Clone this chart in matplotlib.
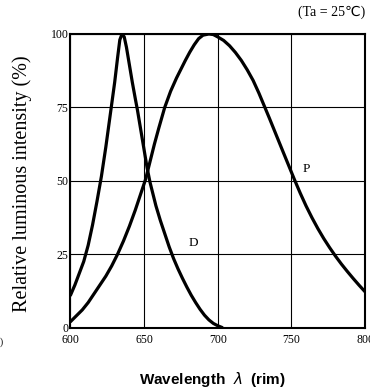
import numpy as np
import matplotlib
matplotlib.use("Agg")
import matplotlib.pyplot as plt

# curva D (pico estrecho, ~635 nm)
d_nm = [600, 603, 606, 609, 612, 615, 618, 621, 624, 627, 630, 632, 633.5, 635,
        636.5, 638, 640, 642, 644, 645.5, 648, 650, 652, 654, 656, 658, 661, 664,
        667, 670, 673, 676, 679, 682, 685, 688, 691, 694, 697, 700, 703]
d_val = [11, 14.5, 18.5, 22.5, 28, 35, 43, 51.5, 61.5, 72.5, 83.5, 92, 98, 100,
         99, 95.5, 89.5, 83.5, 78, 74, 66.5, 60.5, 54.5, 49.5, 45.5, 41.5, 36.5, 32,
         27.5, 23.5, 20, 16.8, 13.8, 11, 8.5, 6.2, 4.2, 2.6, 1.4, 0.6, 0]

# curva P (pico ancho, ~694 nm)
p_nm = [600, 604, 608, 612, 616, 620, 624, 628, 632, 636, 640, 644, 648, 651,
        654, 657, 660, 664, 668, 672, 675, 678, 681, 684, 687, 690, 694, 697,
        700, 704, 708, 712, 716, 720, 724, 728, 731.5, 735, 738, 741, 744, 748,
        752, 756, 760, 764, 768, 772, 776, 780, 784, 788, 792, 796, 800]
p_val = [2, 4, 6, 8.5, 11.5, 14.5, 17.5, 21, 25, 29.5, 34.5, 40, 46, 50.5,
         56.5, 62.5, 68, 75, 80.5, 85, 88, 91, 93.8, 96.3, 98.4, 99.6, 100, 99.8,
         99, 97.8, 96, 93.7, 91, 87.8, 84.2, 79.8, 75.6, 71.4, 67.7, 64, 60.3, 55.4,
         50.5, 45.8, 41.4, 37.4, 33.7, 30.3, 27.2, 24.3, 21.6, 19.1, 16.7, 14.4, 12.2]

xticks = [600, 650, 700, 750, 800]
yticks = [0, 25, 50, 75, 100]

fig = plt.figure(figsize=(3.7, 3.92), dpi=100)
ax = fig.add_axes([0.1905, 0.1645, 0.796, 0.7488])

ax.plot(d_nm, d_val, color="black", lw=2.3, solid_capstyle="round", solid_joinstyle="round")
ax.plot(p_nm, p_val, color="black", lw=2.3, solid_capstyle="round", solid_joinstyle="round")

ax.set_xlim(600, 800)
ax.set_ylim(0, 100)
ax.set_xticks(xticks)
ax.set_yticks(yticks)
ax.grid(True, color="black", lw=0.8)
ax.tick_params(length=0, labelsize=8.5)
ax.tick_params(axis="x", pad=4.5)
ax.tick_params(axis="y", pad=1.5)
for lab in ax.get_xticklabels() + ax.get_yticklabels():
    lab.set_family("Liberation Serif")
for s in ax.spines.values():
    s.set_linewidth(1.5)

ax.text(760, 54, "P", fontsize=9.5, family="Liberation Serif", ha="center", va="center")
ax.text(683.5, 28.7, "D", fontsize=9.5, family="Liberation Serif", ha="center", va="center")

fig.text(0.06, 0.531, "Relative luminous intensity (%)", rotation=90, fontsize=14.5,
         family="Liberation Serif", ha="center", va="center")
fig.text(0.573, 0.033, "Wavelength  $\\lambda$  (rim)", fontsize=11, fontweight="bold",
         family="Liberation Sans", ha="center", va="center")

fig.text(0.988, 0.97, "(Ta = 25\u2103)", ha="right", va="center", fontsize=10,
         family=["Liberation Serif", "DejaVu Sans"])
fig.text(0.0, 0.12, ")", fontsize=7, family="Liberation Serif")

fig.savefig("out.png", dpi=100)
